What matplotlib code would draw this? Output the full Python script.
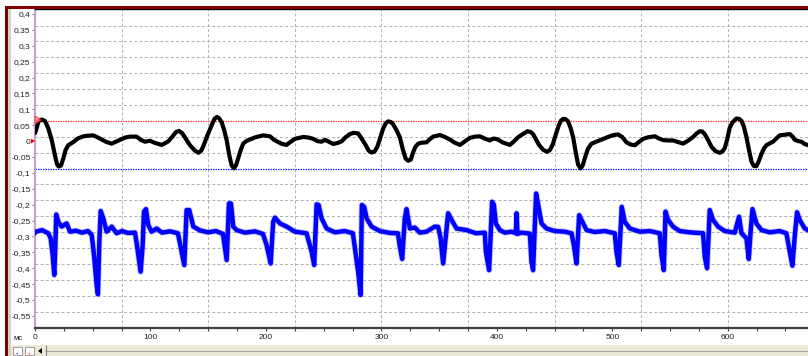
import matplotlib
matplotlib.use("Agg")
import matplotlib.pyplot as plt
from matplotlib.patches import Rectangle, Polygon
from matplotlib.lines import Line2D
from matplotlib.ticker import FixedLocator, MultipleLocator, FuncFormatter

W, H = 808, 356

# upper lead (black): time in ms, amplitude
t_top = [0, 1, 3, 5.8, 8.7, 11.5, 14.5, 17, 19, 20.5, 22.5, 24.5, 26.5, 28.8, 33.2,
         37, 41.8, 46, 50.5, 54, 57.7, 62, 66.4, 70, 73.6, 78, 82.3, 88, 91.5, 95.2,
         99.6, 104, 109.7, 113, 115.4, 119, 122, 124.5, 127.5, 130.5, 134.2, 138.5,
         141.5, 144, 146, 149, 153, 155.5, 157.5, 159.5, 161.6, 163.8, 166, 168.3,
         170.3, 172.3, 174.2, 176, 178.2, 180.3, 183, 186.1, 191, 197.7, 203.5, 207,
         210.6, 214, 217.9, 221.5, 225.1, 232.3, 237, 241, 244.5, 248.2, 251.1, 254.5,
         258.3, 262, 265.5, 269, 272.7, 276, 279.9, 282.5, 286, 289, 291.5, 294,
         296.5, 299, 301.6, 304, 306, 308.2, 310.2, 313, 316, 318.5, 321, 323.2,
         325.5, 327.5, 329.5, 332, 335, 339.1, 342, 344.8, 350.6, 355, 359.3, 363.5,
         368, 372, 376.6, 381, 385.3, 389.5, 393.9, 397, 400.3, 405.5, 411.3, 414.5,
         418.4, 422.5, 426.5, 429, 431.4, 434, 436.5, 440, 443.5, 446, 448.5, 451,
         453.5, 455.5, 457.5, 459.5, 461.7, 464, 466.1, 468.3, 470.4, 472.5, 474.3,
         476.2, 478.8, 482, 485.5, 489.2, 493, 497.8, 501, 505, 508.5, 512.3, 516,
         519.5, 523, 526.7, 531, 536.8, 540.5, 544, 548.3, 552.5, 557, 561.3, 565.5,
         570, 573, 575.8, 578, 580.1, 583, 585.9, 589.5, 593.1, 595.5, 597.4, 599.5,
         601.7, 604, 605.5, 607.5, 609.7, 611.9, 614, 616.2, 618.5, 620.5, 622.5,
         624.8, 627, 629.2, 631.5, 633.5, 636.5, 639.2, 642, 645, 649.5, 653.7, 656,
         658, 661, 663.8, 666.5, 669.5]
v_top = [0.025, 0.035, 0.062, 0.068, 0.063, 0.04, 0.003, -0.04, -0.072, -0.08, -0.077,
         -0.055, -0.028, -0.013, -0.003, 0.008, 0.015, 0.017, 0.018, 0.012, 0.005,
         -0.003, -0.008, -0.002, 0.004, 0.011, 0.014, 0.014, 0.004, -0.002, 0.001,
         -0.006, -0.012, -0.006, -0.001, 0.014, 0.028, 0.032, 0.025, 0.008, -0.013,
         -0.03, -0.037, -0.03, -0.014, 0.015, 0.05, 0.07, 0.076, 0.072, 0.06, 0.035,
         0.003, -0.045, -0.076, -0.086, -0.075, -0.054, -0.028, -0.008, 0.0, 0.005,
         0.012, 0.018, 0.015, 0.004, -0.003, -0.009, -0.012, -0.002, 0.007, 0.013,
         0.011, 0.007, 0.0, -0.002, 0.004, -0.002, -0.009, -0.006, -0.001, 0.012,
         0.022, 0.026, 0.024, 0.01, -0.01, -0.03, -0.036, -0.033, -0.018, 0.01, 0.04,
         0.057, 0.062, 0.06, 0.053, 0.035, 0.012, -0.025, -0.055, -0.062, -0.058,
         -0.035, -0.018, -0.008, -0.005, -0.004, 0.006, 0.014, 0.019, 0.013, 0.005,
         -0.005, -0.012, -0.002, 0.01, 0.014, 0.015, 0.008, 0.002, 0.008, 0.006,
         -0.005, -0.012, -0.002, 0.012, 0.022, 0.031, 0.029, 0.022, 0.005, -0.012,
         -0.027, -0.034, -0.028, -0.01, 0.02, 0.048, 0.064, 0.07, 0.069, 0.062, 0.04,
         0.012, -0.035, -0.074, -0.086, -0.077, -0.054, -0.025, -0.008, -0.003, 0.002,
         0.008, 0.015, 0.019, 0.021, 0.013, -0.004, -0.011, -0.013, -0.003, 0.007,
         0.012, 0.015, 0.008, 0.003, 0.002, 0.002, -0.003, -0.008, 0.001, 0.013,
         0.024, 0.031, 0.03, 0.022, 0.003, -0.018, -0.032, -0.037, -0.032, -0.022,
         0.005, 0.042, 0.058, 0.064, 0.071, 0.07, 0.064, 0.045, 0.012, -0.03, -0.064,
         -0.078, -0.079, -0.062, -0.04, -0.022, -0.013, -0.007, -0.002, 0.008, 0.018,
         0.02, 0.022, 0.015, 0.004, 0.0, -0.002, -0.009, -0.013]

# lower lead (blue)
t_bot = [0, 0.9, 6.1, 11.5, 13.6, 15.3, 16.7, 17.6, 18.4, 20.2, 23.1, 27.4, 30.3,
         35.5, 40.7, 45.9, 49.1, 51.1, 53.4, 54.5, 55.7, 56.9, 59.1, 62.1, 66.4,
         70.7, 75.3, 80.5, 86.6, 88.1, 91.5, 93.2, 94.4, 96.1, 98.1, 101, 105.4,
         110, 116.9, 123.8, 127, 129.3, 131.3, 133.6, 137.1, 142.9, 149.8, 156.7,
         162.8, 166, 168, 169.7, 171.7, 174.6, 181.8, 190.5, 197.4, 200.6, 204.1,
         206.3, 207.8, 212.1, 217.9, 225.1, 235.2, 239.6, 241.8, 243.9, 245.6, 248.2,
         252.6, 259.7, 268.4, 275.3, 277.1, 279.9, 282, 283.1, 285.1, 287.2, 291.5,
         298.7, 307.4, 314.3, 316, 318, 320.3, 321.8, 324.7, 329, 333.3, 339.1,
         346.3, 349.2, 351.3, 353.5, 357.8, 360.8, 365.1, 373.8, 381.8, 389.6,
         390.5, 393.3, 395.9, 397.4, 399.1, 402.6, 406.9, 413, 416.5, 417.1, 417.9,
         421.4, 428.6, 430, 431.4, 434, 435.8, 438.7, 443, 450.2, 458.9, 464.7,
         466.7, 469, 471.3, 473.3, 477.7, 484.8, 493.5, 502.2, 503.6, 505.6, 508.2,
         510.8, 515.2, 523.8, 532.5, 541.1, 542.6, 544.6, 546.1, 548.3, 552.6,
         558.4, 567.1, 578.6, 580.1, 582.1, 584.4, 587.3, 591.6, 597.4, 606.1,
         609.8, 611.9, 616.2, 618.2, 619.7, 621.4, 624.8, 629.2, 636.4, 645, 650.8,
         653.7, 656, 658, 660, 662.3, 666.7, 669.5]
v_bot = [-0.288, -0.285, -0.28, -0.29, -0.306, -0.358, -0.421, -0.33, -0.231, -0.254,
         -0.269, -0.259, -0.285, -0.282, -0.288, -0.283, -0.295, -0.358, -0.453,
         -0.482, -0.32, -0.22, -0.243, -0.285, -0.269, -0.29, -0.283, -0.289, -0.288,
         -0.322, -0.411, -0.33, -0.222, -0.214, -0.264, -0.285, -0.275, -0.288,
         -0.284, -0.29, -0.348, -0.39, -0.217, -0.217, -0.269, -0.281, -0.287,
         -0.283, -0.292, -0.374, -0.196, -0.196, -0.269, -0.28, -0.288, -0.284,
         -0.292, -0.327, -0.385, -0.254, -0.241, -0.259, -0.269, -0.285, -0.29,
         -0.348, -0.39, -0.199, -0.201, -0.243, -0.275, -0.287, -0.283, -0.29,
         -0.337, -0.411, -0.484, -0.201, -0.207, -0.243, -0.269, -0.283, -0.289,
         -0.29, -0.332, -0.371, -0.243, -0.214, -0.275, -0.272, -0.288, -0.285,
         -0.269, -0.27, -0.306, -0.385, -0.227, -0.248, -0.275, -0.28, -0.29, -0.288,
         -0.348, -0.406, -0.191, -0.2, -0.259, -0.28, -0.288, -0.285, -0.29, -0.227,
         -0.292, -0.288, -0.291, -0.38, -0.406, -0.165, -0.2, -0.259, -0.275, -0.283,
         -0.285, -0.29, -0.327, -0.385, -0.233, -0.248, -0.28, -0.286, -0.283, -0.29,
         -0.348, -0.39, -0.207, -0.254, -0.275, -0.285, -0.283, -0.29, -0.358,
         -0.406, -0.222, -0.248, -0.269, -0.283, -0.287, -0.29, -0.364, -0.4, -0.217,
         -0.248, -0.269, -0.283, -0.288, -0.238, -0.29, -0.306, -0.371, -0.29,
         -0.214, -0.259, -0.28, -0.287, -0.283, -0.29, -0.348, -0.392, -0.3, -0.224,
         -0.248, -0.275, -0.28]

x_ticks = [0, 100, 200, 300, 400, 500, 600]
y_ticks = [0.4, 0.35, 0.3, 0.25, 0.2, 0.15, 0.1, 0.05, 0, -0.05, -0.1, -0.15,
           -0.2, -0.25, -0.3, -0.35, -0.4, -0.45, -0.5, -0.55]
grid_x = [75, 150, 225, 300, 375, 450, 525, 600]
grid_y = [0.3635, 0.3135, 0.2635, 0.2135, 0.1635, 0.1135, 0.0635, 0.0135,
          -0.0365, -0.0865, -0.1365, -0.1865, -0.2365, -0.2865, -0.3365, -0.3865,
          -0.4365, -0.4865, -0.5365]
level_hi = 0.064
level_lo = -0.0865
x_unit = "мс"


def fx(px):
    return px / W


def fy(py):
    return 1 - py / H


def comma(v, pos=None):
    s = f"{v:.2f}".rstrip("0").rstrip(".")
    if s in ("-0", ""):
        s = "0"
    return s.replace(".", ",")


plt.rcParams["font.family"] = ["Liberation Sans", "DejaVu Sans"]

fig = plt.figure(figsize=(W / 100, H / 100), dpi=100)
fig.patch.set_facecolor("white")
ax = fig.add_axes([fx(35), fy(328), 1 - fx(35), (328 - 9) / H])

ax.set_xlim(0, 669.5)
ax.set_ylim(-0.588, 0.4155)

grid_style = dict(color="#b4b4b4", lw=0.72, ls=(0, (3, 2.2)), zorder=1)
for g in grid_x:
    ax.axvline(g, **grid_style)
for g in grid_y:
    # the two level lines sit on top of these rows
    if abs(g - level_hi) < 0.005 or abs(g - level_lo) < 0.005:
        continue
    ax.axhline(g, **grid_style)
ax.axhline(level_hi, color="#ff3c3c", lw=0.9, ls=(0, (1.2, 0.8)), zorder=2)
ax.axhline(level_lo, color="#2020ff", lw=0.9, ls=(0, (1.2, 0.8)), zorder=2)

# soft halo + core for the noisy lower lead
ax.plot(t_bot, v_bot, color="#6060ff", lw=4.4, alpha=0.35, solid_joinstyle="round", zorder=3)
ax.plot(t_bot, v_bot, color="#0000ff", lw=3.2, solid_joinstyle="round", zorder=4)
ax.plot(t_top, v_top, color="black", lw=3.0, solid_joinstyle="round",
        solid_capstyle="round", zorder=5)

ax.xaxis.set_major_locator(FixedLocator(x_ticks))
ax.xaxis.set_minor_locator(MultipleLocator(25))
ax.yaxis.set_major_locator(FixedLocator(y_ticks))
ax.yaxis.set_major_formatter(FuncFormatter(comma))
ax.tick_params(axis="x", which="major", length=2.5, width=0.8, color="#404040",
               labelsize=6, labelcolor="#202020", pad=2)
ax.tick_params(axis="x", which="minor", length=1.8, width=0.8, color="#404040")
ax.tick_params(axis="y", which="major", length=2.2, width=0.7, color="#707070",
               labelsize=6, labelcolor="#202020", pad=1)

ax.spines["right"].set_visible(False)
ax.spines["top"].set_color("black")
ax.spines["top"].set_linewidth(1.0)
ax.spines["left"].set_color("#c8a0d8")
ax.spines["left"].set_linewidth(1.6)
ax.spines["bottom"].set_color("#404040")
ax.spines["bottom"].set_linewidth(1.6)

fig.text(fx(18), fy(338), x_unit, fontsize=5.5, color="#202020",
         ha="center", va="center")

# window frame
fig.add_artist(Rectangle((fx(5), fy(9)), fx(803), 3 / H, transform=fig.transFigure,
                         facecolor="#800000", edgecolor="none"))
fig.add_artist(Rectangle((fx(5), 0), fx(3), fy(6), transform=fig.transFigure,
                         facecolor="#800000", edgecolor="none"))
fig.add_artist(Rectangle((fx(8), 0), fx(3), fy(9), transform=fig.transFigure,
                         facecolor="#d4d0c8", edgecolor="none"))

# scroll bar strip
fig.add_artist(Rectangle((fx(11), 0), 1 - fx(11), 11 / H, transform=fig.transFigure,
                         facecolor="#ece9d8", edgecolor="none"))
fig.add_artist(Line2D([fx(46), 1], [fy(351), fy(351)], transform=fig.transFigure,
                      color="#a0a0a0", lw=0.8))
fig.add_artist(Line2D([fx(46), fx(46)], [fy(346), 0], transform=fig.transFigure,
                      color="#808080", lw=0.8))
for x0, c in ((13, "#3040ff"), (25, "#ff3030")):
    fig.add_artist(Rectangle((fx(x0), fy(355)), fx(9), 8 / H, transform=fig.transFigure,
                             facecolor="white", edgecolor="#909090", lw=0.6))
    fig.add_artist(Line2D([fx(x0 + 3), fx(x0 + 6)], [fy(352.5), fy(352.5)],
                          transform=fig.transFigure, color=c, lw=1.0, ls=(0, (1, 1))))
fig.add_artist(Polygon([(fx(38), fy(351)), (fx(42), fy(348)), (fx(42), fy(354))],
                       closed=True, transform=fig.transFigure,
                       facecolor="black", edgecolor="none"))

# level markers on the left edge
fig.add_artist(Polygon([(fx(31), fy(138.5)), (fx(35), fy(141)), (fx(31), fy(143.5))],
                       closed=True, transform=fig.transFigure,
                       facecolor="#ff0000", edgecolor="none"))
fig.add_artist(Polygon([(fx(35), fy(116)), (fx(41), fy(120)), (fx(35), fy(124))],
                       closed=True, transform=fig.transFigure,
                       facecolor="#ff9090", edgecolor="#ff2020", lw=0.8, alpha=0.8))

fig.savefig("out.png", dpi=100)
